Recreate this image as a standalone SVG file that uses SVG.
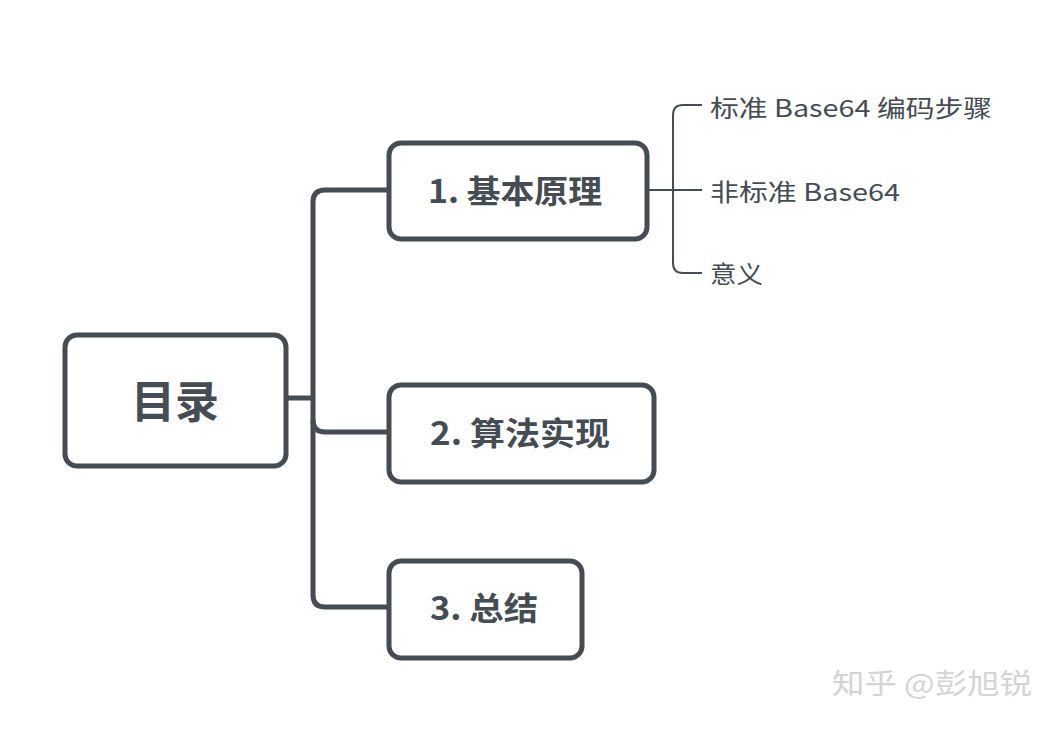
<svg xmlns="http://www.w3.org/2000/svg" width="1060" height="730" viewBox="0 0 1060 730">
<style>
.box{fill:#fff;stroke:#454c54;stroke-width:5}
.main{fill:none;stroke:#454c54;stroke-width:5;stroke-linejoin:round}
.sub{fill:none;stroke:#454c54;stroke-width:2}
.t{font-family:"Noto Sans CJK SC","Noto Sans",sans-serif;fill:#454c54}
.big{font-size:44px;font-weight:700;dominant-baseline:central}
.mid{font-size:32px;font-weight:600;dominant-baseline:central}
.sm{font-size:24px;dominant-baseline:central}
.wm{font-family:"Noto Sans CJK SC",sans-serif;font-size:28px;fill:#d4d4d4}
</style>
<rect width="1060" height="730" fill="#fff"/>
<g id="connectors">
<path class="main" d="M287 398 H313"/>
<path class="main" d="M388 190 H325 Q313 190 313 202 V595 Q313 607 325 607 H388"/>
<path class="main" d="M313 420 Q313 432 325 432 H388"/>
<path class="sub" d="M647 190 H702"/>
<path class="sub" d="M702 105 H683 Q673 105 673 115 V263 Q673 273 683 273 H702"/>
</g>
<g id="root">
<rect class="box" x="65" y="335" width="221" height="131" rx="12"/>
<text class="t big" x="131" y="399" textLength="88" lengthAdjust="spacingAndGlyphs">目录</text>
</g>
<g id="n1">
<rect class="box" x="389" y="143" width="258" height="96" rx="12"/>
<text class="t mid" x="428" y="189" textLength="174" lengthAdjust="spacingAndGlyphs">1. 基本原理</text>
</g>
<g id="n2">
<rect class="box" x="389" y="385" width="265" height="97" rx="12"/>
<text class="t mid" x="430" y="431" textLength="180" lengthAdjust="spacingAndGlyphs">2. 算法实现</text>
</g>
<g id="n3">
<rect class="box" x="389" y="561" width="193" height="97" rx="12"/>
<text class="t mid" x="430" y="606" textLength="108" lengthAdjust="spacingAndGlyphs">3. 总结</text>
</g>
<g id="s1"><text class="t sm" x="710" y="106" textLength="282" lengthAdjust="spacingAndGlyphs">标准 Base64 编码步骤</text></g>
<g id="s2"><text class="t sm" x="710" y="190" textLength="190" lengthAdjust="spacingAndGlyphs">非标准 Base64</text></g>
<g id="s3"><text class="t sm" x="710" y="272" textLength="53" lengthAdjust="spacingAndGlyphs">意义</text></g>
<text class="wm" x="832" y="694" textLength="200" lengthAdjust="spacingAndGlyphs">知乎 @彭旭锐</text>
</svg>
